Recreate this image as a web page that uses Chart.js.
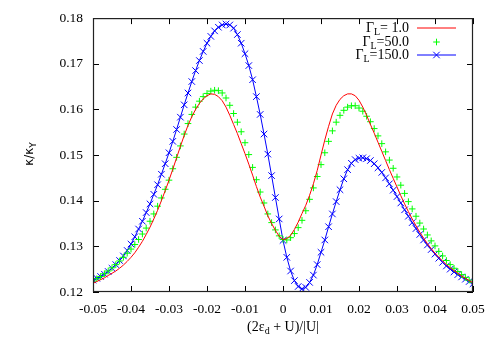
<!DOCTYPE html>
<html>
<head>
<meta charset="utf-8">
<script src="https://cdn.jsdelivr.net/npm/chart.js@4.4.0/dist/chart.umd.min.js"></script>
<style>
  html, body { margin: 0; padding: 0; background: #fff; }
  #wrap { width: 500px; height: 350px; }
</style>
</head>
<body>
<div id="wrap"><canvas id="chart" width="500" height="350"></canvas></div>
<script>
// x positions (2ed + U)/|U|
const xs = [
  -0.050, -0.049, -0.048, -0.047, -0.046, -0.045, -0.044, -0.043, -0.042, -0.041,
  -0.040, -0.039, -0.038, -0.037, -0.036, -0.035, -0.034, -0.033, -0.032, -0.031,
  -0.030, -0.029, -0.028, -0.027, -0.026, -0.025, -0.024, -0.023, -0.022, -0.021,
  -0.020, -0.019, -0.018, -0.017, -0.016, -0.015, -0.014, -0.013, -0.012, -0.011,
  -0.010, -0.009, -0.008, -0.007, -0.006, -0.005, -0.004, -0.003, -0.002, -0.001,
  0.000, 0.001, 0.002, 0.003, 0.004, 0.005, 0.006, 0.007, 0.008, 0.009,
  0.010, 0.011, 0.012, 0.013, 0.014, 0.015, 0.016, 0.017, 0.018, 0.019,
  0.020, 0.021, 0.022, 0.023, 0.024, 0.025, 0.026, 0.027, 0.028, 0.029,
  0.030, 0.031, 0.032, 0.033, 0.034, 0.035, 0.036, 0.037, 0.038, 0.039,
  0.040, 0.041, 0.042, 0.043, 0.044, 0.045, 0.046, 0.047, 0.048, 0.049,
  0.050
];

// Gamma_L = 1.0 (red line)
const gamma1 = [
  0.1219, 0.1223, 0.1227, 0.1231, 0.1236, 0.1241, 0.1246, 0.1252, 0.1259, 0.1267,
  0.1276, 0.1286, 0.1298, 0.1311, 0.1326, 0.1342, 0.1360, 0.1379, 0.1400, 0.1422,
  0.1445, 0.1469, 0.1494, 0.1519, 0.1543, 0.1565, 0.1584, 0.1600, 0.1613, 0.1623,
  0.1630, 0.1634, 0.1633, 0.1628, 0.1619, 0.1605, 0.1587, 0.1567, 0.1547, 0.1525,
  0.1503, 0.1480, 0.1456, 0.1431, 0.1408, 0.1388, 0.1367, 0.1350, 0.1335, 0.1322,
  0.1315, 0.1317, 0.1324, 0.1337, 0.1353, 0.1372, 0.1390, 0.1412, 0.1437, 0.1466,
  0.1500, 0.1533, 0.1563, 0.1590, 0.1609, 0.1622, 0.1630, 0.1634, 0.1634, 0.1630,
  0.1620, 0.1605, 0.1587, 0.1567, 0.1548, 0.1528, 0.1508, 0.1488, 0.1468, 0.1449,
  0.1430, 0.1411, 0.1393, 0.1376, 0.1360, 0.1345, 0.1331, 0.1318, 0.1306, 0.1295,
  0.1285, 0.1276, 0.1268, 0.1260, 0.1253, 0.1247, 0.1241, 0.1235, 0.1230, 0.1225,
  0.1220
];

// Gamma_L = 50.0 (green points)
const gamma50 = [
  0.1224, 0.1229, 0.1234, 0.1240, 0.1246, 0.1253, 0.1260, 0.1268, 0.1276, 0.1285,
  0.1294, 0.1304, 0.1315, 0.1327, 0.1340, 0.1355, 0.1371, 0.1388, 0.1406, 0.1425,
  0.1445, 0.1470, 0.1495, 0.1520, 0.1546, 0.1569, 0.1589, 0.1605, 0.1618, 0.1628,
  0.1635, 0.1640, 0.1642, 0.1641, 0.1636, 0.1625, 0.1609, 0.1591, 0.1572, 0.1551,
  0.1527, 0.1501, 0.1473, 0.1446, 0.1419, 0.1395, 0.1371, 0.1352, 0.1336, 0.1323,
  0.1315, 0.1314, 0.1319, 0.1328, 0.1341, 0.1357, 0.1378, 0.1403, 0.1428, 0.1453,
  0.1479, 0.1505, 0.1530, 0.1553, 0.1572, 0.1587, 0.1598, 0.1605, 0.1608, 0.1608,
  0.1603, 0.1596, 0.1585, 0.1573, 0.1558, 0.1542, 0.1525, 0.1507, 0.1489, 0.1471,
  0.1452, 0.1434, 0.1416, 0.1398, 0.1382, 0.1366, 0.1351, 0.1338, 0.1325, 0.1312,
  0.1301, 0.1289, 0.1279, 0.1269, 0.1260, 0.1252, 0.1245, 0.1238, 0.1232, 0.1226,
  0.1221
];

// Gamma_L = 150.0 (blue line + x)
const gamma150 = [
  0.1226, 0.1230, 0.1234, 0.1239, 0.1245, 0.1252, 0.1260, 0.1269, 0.1279, 0.1291,
  0.1305, 0.1321, 0.1338, 0.1355, 0.1374, 0.1393, 0.1414, 0.1435, 0.1458, 0.1481,
  0.1505, 0.1530, 0.1556, 0.1583, 0.1610, 0.1636, 0.1661, 0.1685, 0.1707, 0.1727,
  0.1745, 0.1760, 0.1772, 0.1780, 0.1785, 0.1787, 0.1785, 0.1778, 0.1764, 0.1745,
  0.1722, 0.1696, 0.1665, 0.1628, 0.1589, 0.1546, 0.1502, 0.1455, 0.1407, 0.1360,
  0.1313, 0.1276, 0.1246, 0.1225, 0.1212, 0.1207, 0.1210, 0.1221, 0.1237, 0.1260,
  0.1287, 0.1314, 0.1343, 0.1371, 0.1398, 0.1424, 0.1448, 0.1468, 0.1482, 0.1490,
  0.1493, 0.1494, 0.1492, 0.1488, 0.1481, 0.1472, 0.1462, 0.1450, 0.1437, 0.1423,
  0.1409, 0.1395, 0.1380, 0.1366, 0.1352, 0.1339, 0.1326, 0.1314, 0.1303, 0.1293,
  0.1283, 0.1274, 0.1265, 0.1257, 0.1250, 0.1244, 0.1238, 0.1233, 0.1228, 0.1223,
  0.1218
];

const xTicks = [-0.05, -0.04, -0.03, -0.02, -0.01, 0, 0.01, 0.02, 0.03, 0.04, 0.05];
const xTickLabels = ['-0.05', '-0.04', '-0.03', '-0.02', '-0.01', '0', '0.01', '0.02', '0.03', '0.04', '0.05'];
const yTicks = [0.12, 0.13, 0.14, 0.15, 0.16, 0.17, 0.18];
const yTickLabels = ['0.12', '0.13', '0.14', '0.15', '0.16', '0.17', '0.18'];
const seriesNames = ['= 1.0', '=50.0', '=150.0'];

const RED = '#ff0000', GREEN = '#00ff00', BLUE = '#0000ff';
const serif = '"Liberation Serif", "Times New Roman", serif';

const toPoints = arr => xs.map((x, i) => ({ x: x, y: arr[i] }));

// frame, inward ticks, legend and axis titles drawn gnuplot-style
const gnuplotFrame = {
  id: 'gnuplotFrame',
  afterDraw(chart) {
    const ctx = chart.ctx;
    const { left, right, top, bottom } = chart.chartArea;
    const sx = chart.scales.x, sy = chart.scales.y;
    ctx.save();

    // ticks on all four sides
    ctx.strokeStyle = '#000';
    ctx.lineWidth = 1;
    ctx.beginPath();
    xTicks.forEach(v => {
      const p = Math.round(sx.getPixelForValue(v)) + 0.5;
      ctx.moveTo(p, bottom); ctx.lineTo(p, bottom - 6);
      ctx.moveTo(p, top); ctx.lineTo(p, top + 6);
    });
    yTicks.forEach(v => {
      const p = Math.round(sy.getPixelForValue(v)) + 0.5;
      ctx.moveTo(left, p); ctx.lineTo(left + 6, p);
      ctx.moveTo(right, p); ctx.lineTo(right - 6, p);
    });
    ctx.stroke();

    // border
    ctx.strokeStyle = '#222';
    ctx.lineWidth = 1.2;
    ctx.strokeRect(left + 0.5, top + 0.5, right - left - 1, bottom - top - 1);

    // legend
    const rows = [28, 41.5, 55];
    const textRight = 409, lineL = 417, lineR = 456;
    const colors = [RED, GREEN, BLUE];
    const datasets = chart.data.datasets;
    rows.forEach((ry, i) => {
      ctx.fillStyle = '#000';
      ctx.textBaseline = 'alphabetic';
      ctx.textAlign = 'left';
      ctx.font = '14px ' + serif;
      const wG = ctx.measureText('Γ').width;
      const wRest = ctx.measureText(seriesNames[i]).width;
      ctx.font = '10px ' + serif;
      const wL = ctx.measureText('L').width;
      const x0 = textRight - (wG + wL + wRest);
      const base = ry + 4;
      ctx.font = '14px ' + serif;
      ctx.fillText('Γ', x0, base);
      ctx.font = '10px ' + serif;
      ctx.fillText('L', x0 + wG, base + 3);
      ctx.font = '14px ' + serif;
      ctx.fillText(seriesNames[i], x0 + wG + wL, base);

      const ds = datasets[i];
      const cx = (lineL + lineR) / 2, cy = Math.round(ry);
      ctx.strokeStyle = colors[i];
      ctx.lineWidth = 1;
      ctx.beginPath();
      if (ds.showLine) {
        ctx.moveTo(lineL, cy); ctx.lineTo(lineR, cy);
      }
      const r = ds.pointRadius;
      if (r > 0 && ds.pointStyle === 'cross') {
        ctx.moveTo(cx - r, cy); ctx.lineTo(cx + r, cy);
        ctx.moveTo(cx, cy - r); ctx.lineTo(cx, cy + r);
      } else if (r > 0) {
        const d = r * Math.SQRT1_2;
        ctx.moveTo(cx - d, cy - d); ctx.lineTo(cx + d, cy + d);
        ctx.moveTo(cx - d, cy + d); ctx.lineTo(cx + d, cy - d);
      }
      ctx.stroke();
    });

    // x axis title: (2e_d + U)/|U|
    ctx.fillStyle = '#000';
    ctx.textAlign = 'left';
    ctx.font = '14px ' + serif;
    const p1 = '(2ε', p2 = ' + U)/|U|';
    const w1 = ctx.measureText(p1).width, w2 = ctx.measureText(p2).width;
    ctx.font = '10px ' + serif;
    const wd = ctx.measureText('d').width;
    const tx = (left + right) / 2 - (w1 + wd + w2) / 2;
    ctx.font = '14px ' + serif;
    ctx.fillText(p1, tx, 331);
    ctx.font = '10px ' + serif;
    ctx.fillText('d', tx + w1, 334);
    ctx.font = '14px ' + serif;
    ctx.fillText(p2, tx + w1 + wd, 331);

    // y axis title: kappa/kappa_Y
    ctx.translate(33, 154);
    ctx.rotate(-Math.PI / 2);
    ctx.font = '12px "DejaVu Sans", sans-serif';
    const k1 = 'κ/κ';
    const wk = ctx.measureText(k1).width;
    ctx.font = '9px "DejaVu Sans", sans-serif';
    const wy = ctx.measureText('Y').width;
    const ty = -(wk + wy) / 2;
    ctx.font = '12px "DejaVu Sans", sans-serif';
    ctx.fillText(k1, ty, 0);
    ctx.font = '9px "DejaVu Sans", sans-serif';
    ctx.fillText('Y', ty + wk, 3);

    ctx.restore();
  }
};

const ctx = document.getElementById('chart').getContext('2d');

new Chart(ctx, {
  type: 'scatter',
  data: {
    datasets: [
      {
        label: 'Γ_L= 1.0',
        data: toPoints(gamma1),
        borderColor: RED,
        backgroundColor: RED,
        borderWidth: 1,
        showLine: true,
        pointRadius: 0,
        tension: 0
      },
      {
        label: 'Γ_L=50.0',
        data: toPoints(gamma50),
        borderColor: GREEN,
        backgroundColor: GREEN,
        showLine: false,
        pointStyle: 'cross',
        pointRadius: 3.3,
        pointBorderWidth: 1
      },
      {
        label: 'Γ_L=150.0',
        data: toPoints(gamma150),
        borderColor: BLUE,
        backgroundColor: BLUE,
        borderWidth: 1,
        showLine: true,
        pointStyle: 'crossRot',
        pointRadius: 4.6,
        pointBorderWidth: 1,
        tension: 0
      }
    ]
  },
  options: {
    responsive: false,
    animation: false,
    layout: { padding: { top: 17, right: 27, left: 0, bottom: 0 } },
    plugins: {
      legend: { display: false },
      tooltip: { enabled: false }
    },
    scales: {
      x: {
        type: 'linear',
        min: -0.05,
        max: 0.05,
        afterBuildTicks: s => { s.ticks = xTicks.map(v => ({ value: v })); },
        afterFit: s => { s.height = 58; },
        ticks: {
          callback: (v, i) => xTickLabels[i],
          autoSkip: false,
          maxRotation: 0,
          padding: 9,
          color: '#000',
          font: { family: serif, size: 13.5 }
        },
        grid: { display: true, drawOnChartArea: false, drawTicks: false },
        border: { display: false }
      },
      y: {
        type: 'linear',
        min: 0.12,
        max: 0.18,
        afterBuildTicks: s => { s.ticks = yTicks.map(v => ({ value: v })); },
        afterFit: s => { s.width = 93; },
        ticks: {
          callback: (v, i) => yTickLabels[i],
          autoSkip: false,
          padding: 10,
          color: '#000',
          font: { family: serif, size: 13.5 }
        },
        grid: { display: true, drawOnChartArea: false, drawTicks: false },
        border: { display: false }
      }
    }
  },
  plugins: [gnuplotFrame]
});
</script>
</body>
</html>
